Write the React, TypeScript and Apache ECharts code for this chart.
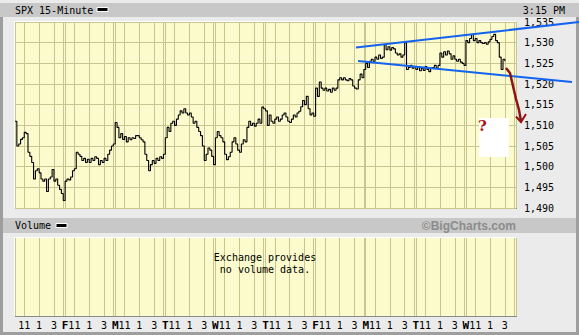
import React, { useEffect, useRef } from 'react';
import * as echarts from 'echarts';

// ---- data ----
const dayLetters = ['', 'F', 'M', 'T', 'W', 'T', 'F', 'M', 'T', 'W'];
const hourTickOffsets = [5, 13, 21];
const hourTickLabels = ['11', '1', '3'];
const sessionCloseOffset = 26;
const slotsPerDay = 27;
const priceMin = 1490;
const priceMax = 1535;
const priceStep = 5;

// 15-minute closes, one row per trading day
const closes = [
  1511, 1505, 1505.5, 1506.6, 1507, 1508.3, 1508, 1503.5, 1502.5, 1501, 1497, 1499, 1499.5, 1498.5, 1497, 1496.5, 1497, 1494, 1497, 1497.5, 1499.3, 1496.5, 1497, 1495.5, 1494.5, 1493.5, 1491.8,
  1496.5, 1497, 1496.8, 1497.5, 1499, 1499.5, 1503.5, 1503, 1502.5, 1501.5, 1502, 1501, 1501.8, 1501, 1502, 1501.5, 1502.4, 1502, 1500.5, 1501.5, 1501, 1502, 1501.5, 1503, 1504, 1505, 1505.5,
  1510.7, 1509.5, 1507, 1508, 1506.6, 1507.3, 1506, 1507, 1506.5, 1507, 1506.8, 1507.5, 1507.5, 1507, 1506.5, 1506, 1503, 1501.5, 1499, 1500.5, 1501.5, 1500.8, 1502, 1501.5, 1502.4, 1502, 1503,
  1507, 1509.5, 1508.5, 1510.5, 1511, 1510, 1511.5, 1512.5, 1513.5, 1513, 1514, 1513, 1512.5, 1513, 1512, 1510.5, 1511, 1509.5, 1508.5, 1507.5, 1505, 1501.5, 1503, 1504.5, 1504, 1502.5, 1500.5,
  1507, 1508.5, 1507.5, 1507, 1506, 1503, 1501.7, 1502.4, 1503.5, 1506, 1507, 1505.5, 1504, 1503.5, 1505.5, 1506.5, 1506, 1509.5, 1511, 1510, 1510.5, 1509.8, 1510.5, 1511.5, 1510.5, 1514.4, 1514,
  1513.5, 1510, 1512.5, 1511, 1510.5, 1511.5, 1512, 1511, 1511.5, 1512.5, 1513, 1512, 1511, 1510.7, 1511.5, 1512.5, 1512, 1513, 1513.4, 1514.5, 1516, 1515, 1517, 1514, 1512.5, 1513, 1512.2,
  1519, 1517, 1520.5, 1519, 1518.5, 1519, 1518.3, 1518.7, 1518, 1519, 1518.5, 1519, 1521, 1521.5, 1521, 1521.5, 1521, 1520.8, 1521.3, 1521, 1519.5, 1519, 1518.8, 1521, 1522.4, 1521.5, 1523.5,
  1525, 1524, 1525.5, 1526, 1525.5, 1526.5, 1526, 1527, 1526.2, 1526.5, 1529.5, 1528.3, 1529, 1528.2, 1528.8, 1528.5, 1527.5, 1527, 1527.3, 1526.5, 1527, 1530, 1523.5, 1524, 1524.5, 1523.8, 1524.2,
  1523.5, 1524, 1523.2, 1523.8, 1523.3, 1524.2, 1523.5, 1523, 1523.8, 1524, 1524.5, 1523.8, 1524.5, 1527.5, 1526.5, 1527.8, 1527, 1528, 1527.3, 1526, 1526.8, 1526, 1525.5, 1526, 1525.3, 1525, 1524.5,
  1530.5, 1530, 1531, 1532, 1530.5, 1531, 1530, 1530.5, 1530, 1529.8, 1530, 1529.6, 1530.2, 1530.8, 1531.5, 1532, 1530.5, 1530, 1526.5, 1523.5, 1526, 1525.5,
];

// ---- derived axis helpers ----
const slotCount = dayLetters.length * slotsPerDay + 1;
const categories = Array.from({ length: slotCount }, (_, i) => `s${i}`);

function slotLabel(i: number): string {
  const d = Math.floor(i / slotsPerDay);
  const j = i % slotsPerDay;
  if (d >= dayLetters.length) return '';
  if (j === 0) return dayLetters[d] ? `{d|${dayLetters[d]}}` : '';
  const k = hourTickOffsets.indexOf(j);
  return k >= 0 ? hourTickLabels[k] : '';
}
function isGridSlot(i: number): boolean {
  const j = i % slotsPerDay;
  return j === 0 || j === sessionCloseOffset || hourTickOffsets.indexOf(j) >= 0;
}

const mono = 'DejaVu Sans Mono';
const gridLineColor = '#c9c590';
const plotBg = '#fbfbcd';

function App() {
  const ref = useRef<HTMLDivElement>(null);
  useEffect(() => {
    if (!ref.current) return;
    const chart = echarts.init(ref.current, undefined, { renderer: 'svg' });
    const xBase = {
      type: 'category',
      data: categories,
      boundaryGap: false,
      axisLine: { show: false },
      axisTick: { show: false },
      splitLine: {
        show: true,
        interval: (i: number) => isGridSlot(i),
        lineStyle: { color: gridLineColor, width: 1 },
      },
    };
    const txt = (x: number, y: number, text: string, extra: any = {}, z = 5) => ({
      type: 'text',
      x,
      y,
      z,
      style: {
        text,
        fill: '#000',
        fontSize: 10,
        fontFamily: mono,
        align: 'left',
        textAlign: 'left',
        verticalAlign: 'middle',
        textVerticalAlign: 'middle',
        ...extra,
      },
    });
    const option: any = {
      animation: false,
      backgroundColor: '#ebebeb',
      grid: [
        { left: 15, right: 63, top: 22, height: 186, show: true, backgroundColor: plotBg, borderWidth: 0 },
        { left: 15, right: 63, top: 238, height: 78, show: true, backgroundColor: plotBg, borderWidth: 0 },
      ],
      xAxis: [
        { ...xBase, gridIndex: 0, axisLabel: { show: false } },
        {
          ...xBase,
          gridIndex: 1,
          axisLabel: {
            show: true,
            interval: (i: number) => slotLabel(i) !== '',
            formatter: (_v: string, i: number) => slotLabel(i),
            margin: 4,
            color: '#000',
            fontSize: 10,
            fontFamily: mono,
            rich: { d: { fontWeight: 'bold', fontSize: 11, fontFamily: mono, color: '#000' } },
          },
        },
      ],
      yAxis: [
        {
          type: 'value',
          gridIndex: 0,
          position: 'right',
          min: priceMin,
          max: priceMax,
          interval: priceStep,
          axisLine: { show: false },
          axisTick: { show: false },
          splitLine: { show: true, lineStyle: { color: gridLineColor, width: 1 } },
          axisLabel: {
            margin: 8,
            color: '#000',
            fontSize: 10,
            fontFamily: mono,
            formatter: (v: number) => v.toLocaleString('en-US'),
          },
        },
        { type: 'value', gridIndex: 1, show: false, min: 0, max: 1 },
      ],
      series: [
        {
          type: 'line',
          xAxisIndex: 0,
          yAxisIndex: 0,
          data: closes,
          step: 'end',
          showSymbol: false,
          symbol: 'none',
          lineStyle: { color: '#000', width: 1.1 },
          z: 5,
        },
      ],
      graphic: [
        // frame and header bars
        { type: 'rect', z: -2, shape: { x: 0, y: 3, width: 579, height: 14 }, style: { fill: '#c8c8c8' } },
        { type: 'rect', z: -2, shape: { x: 2, y: 218, width: 575, height: 15 }, style: { fill: '#c8c8c8' } },
        { type: 'rect', z: -2, shape: { x: 0, y: 17, width: 3, height: 318 }, style: { fill: '#9e9e9e' } },
        { type: 'rect', z: -2, shape: { x: 576, y: 17, width: 3, height: 318 }, style: { fill: '#9e9e9e' } },
        { type: 'rect', z: -2, shape: { x: 0, y: 332, width: 579, height: 3 }, style: { fill: '#9e9e9e' } },
        // plot bevels
        { type: 'rect', z: -1, shape: { x: 15, y: 22, width: 502, height: 187 }, style: { fill: '#8a8a8a' } },
        { type: 'rect', z: -1, shape: { x: 14, y: 21, width: 502, height: 187 }, style: { fill: '#ffffff' } },
        { type: 'rect', z: -1, shape: { x: 15, y: 238, width: 502, height: 79 }, style: { fill: '#8a8a8a' } },
        { type: 'rect', z: -1, shape: { x: 14, y: 237, width: 502, height: 79 }, style: { fill: '#ffffff' } },
        // header texts
        txt(15, 10, 'SPX 15-Minute'),
        { type: 'rect', z: 5, shape: { x: 97, y: 7.5, width: 11, height: 4 }, style: { fill: '#000', stroke: '#fff', lineWidth: 1 } },
        txt(565, 10, '3:15 PM', { align: 'right', textAlign: 'right' }),
        txt(15, 225.5, 'Volume'),
        { type: 'rect', z: 5, shape: { x: 56, y: 223.5, width: 11, height: 4 }, style: { fill: '#000', stroke: '#fff', lineWidth: 1 } },
        txt(516, 225.5, '©BigCharts.com', {
          align: 'right',
          textAlign: 'right',
          fill: '#8c8c8c',
          fontSize: 12,
          fontWeight: 'bold',
          fontFamily: 'Liberation Sans',
        }),
        txt(265, 263, 'Exchange provides\nno volume data.', {
          align: 'center',
          textAlign: 'center',
          lineHeight: 12,
        }),
        // hand-drawn annotations
        { type: 'line', z: 10, shape: { x1: 356, y1: 47.5, x2: 579, y2: 22 }, style: { stroke: '#1363f0', lineWidth: 2 } },
        { type: 'line', z: 10, shape: { x1: 358, y1: 61, x2: 572, y2: 82 }, style: { stroke: '#1363f0', lineWidth: 2 } },
        { type: 'rect', z: 10, shape: { x: 479, y: 118, width: 30, height: 39 }, style: { fill: '#ffffff' } },
        txt(478, 126, '?', { fill: '#b01010', fontSize: 15, fontWeight: 'bold', fontFamily: 'DejaVu Serif' }, 12),
        {
          type: 'polyline',
          z: 11,
          shape: { points: [[506, 68], [510, 73], [513, 86], [516, 99], [519, 110], [521, 121]] },
          style: { stroke: '#8e1414', lineWidth: 2.5, fill: 'none' },
        },
        {
          type: 'polyline',
          z: 11,
          shape: { points: [[516, 116.5], [521, 122], [526, 114]] },
          style: { stroke: '#8e1414', lineWidth: 2, fill: 'none' },
        },
      ],
    };
    chart.setOption(option);
    return () => chart.dispose();
  }, []);
  return (
    <div
      ref={ref}
      style={{ position: 'fixed', left: 0, top: 0, width: 579, height: 335 }}
    />
  );
}

export default App;
